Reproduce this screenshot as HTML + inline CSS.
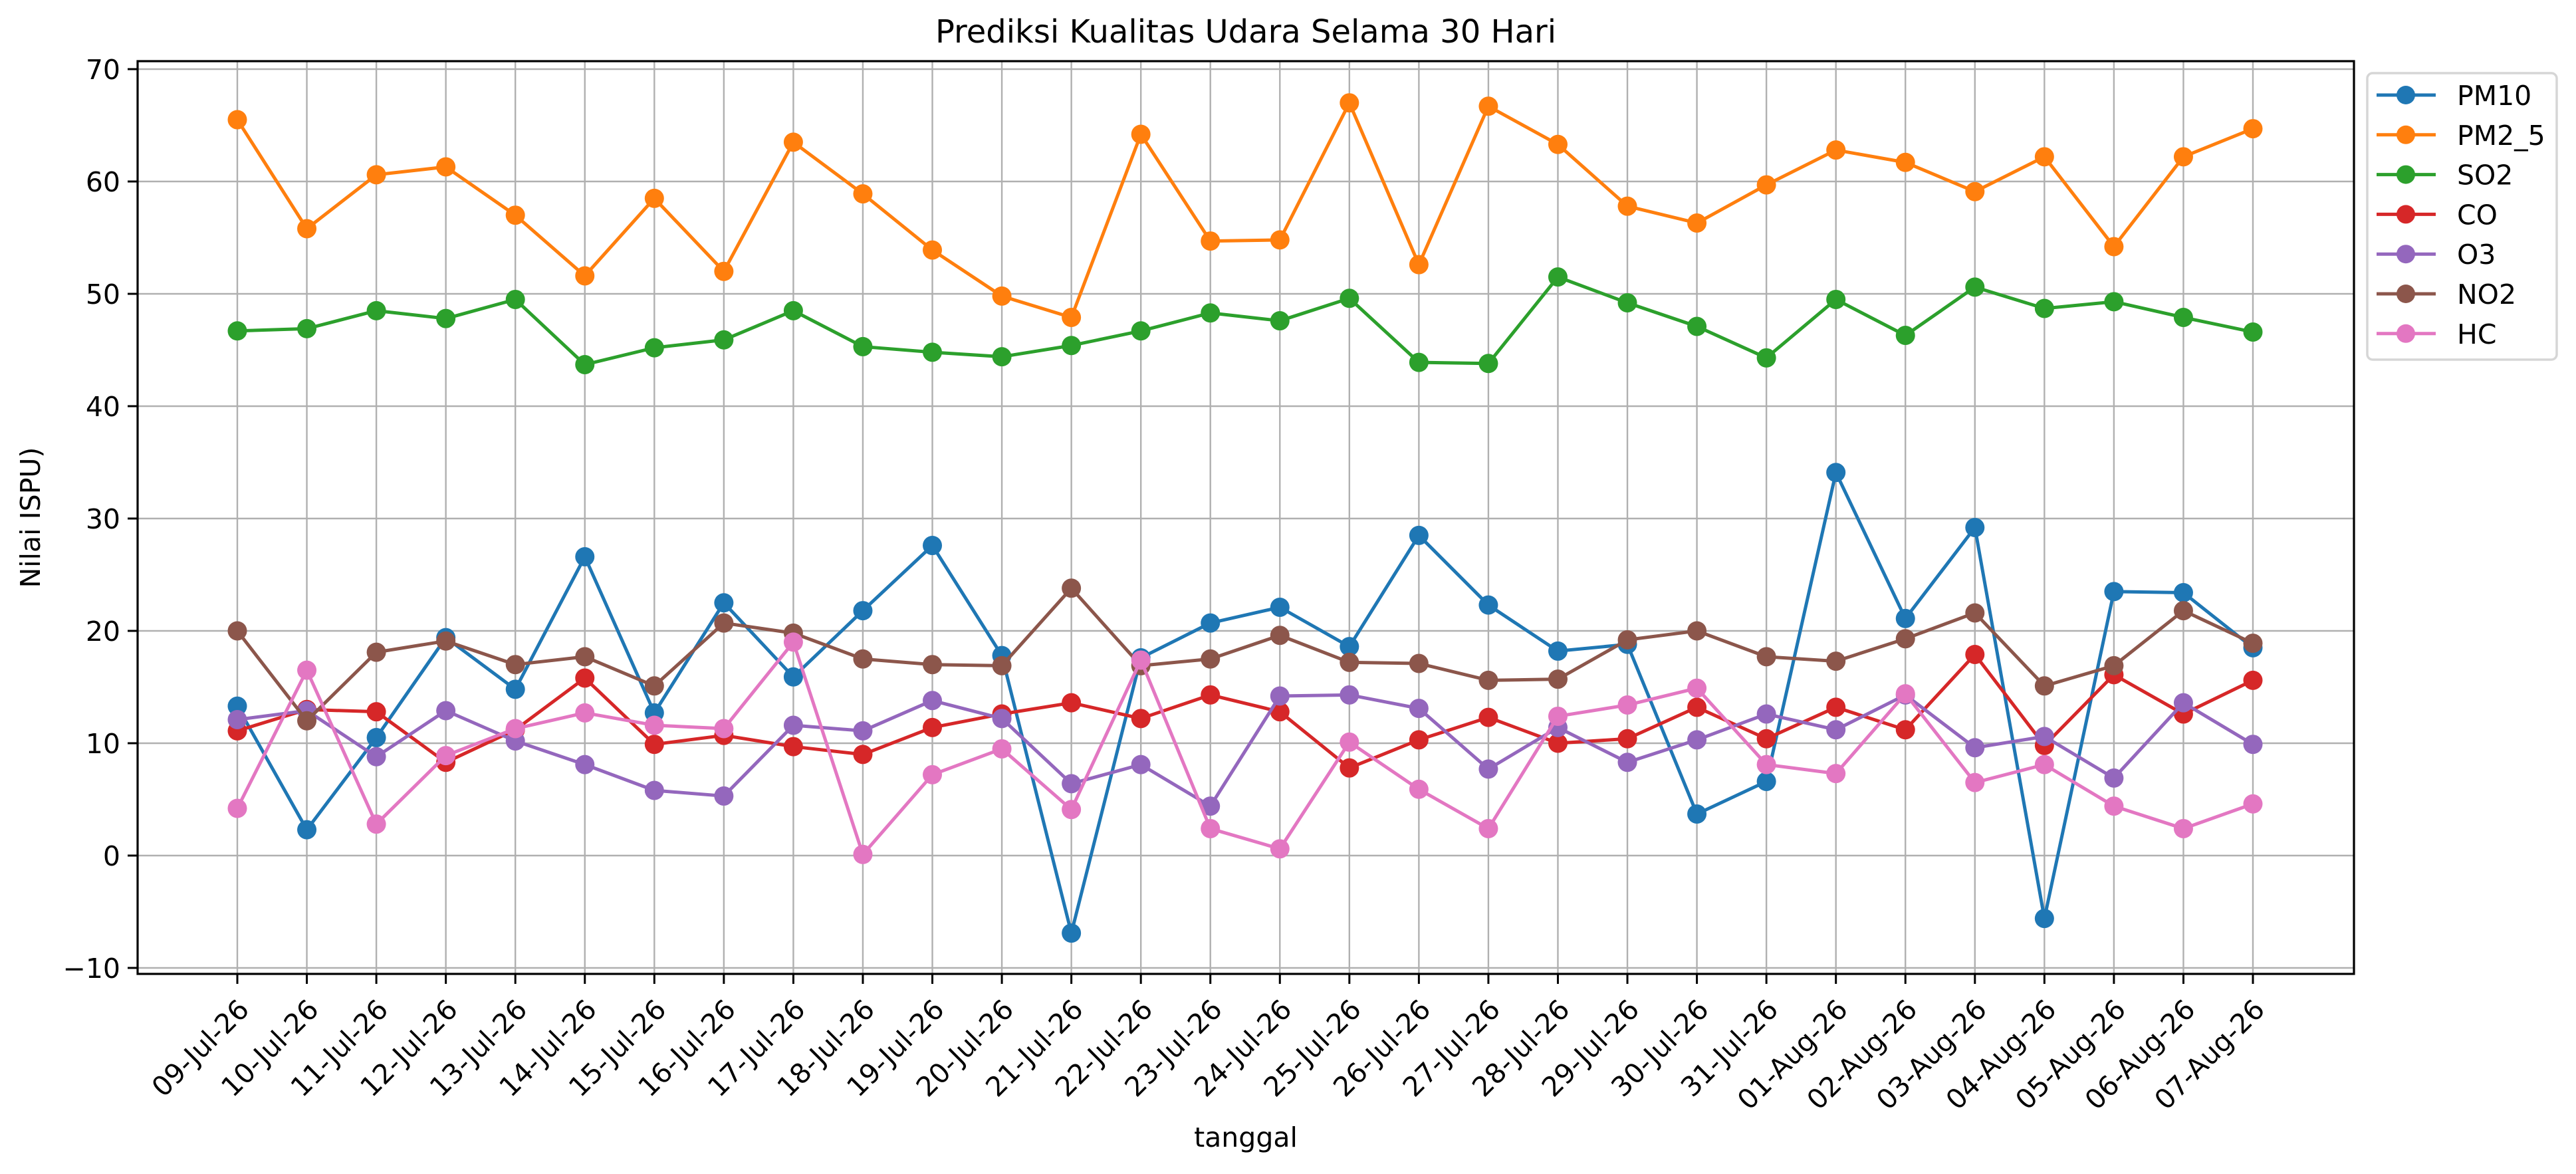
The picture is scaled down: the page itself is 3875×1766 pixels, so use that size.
<!DOCTYPE html>
<html><head><meta charset="utf-8"><style>
html,body{margin:0;padding:0;background:#fff;}
svg{display:block;font-family:"DejaVu Sans","Liberation Sans",sans-serif;}
</style></head><body>
<svg id="chart" width="3875" height="1766" viewBox="0 0 3875 1766" xmlns="http://www.w3.org/2000/svg"></svg>
<script>
const dates = ["09-Jul-26","10-Jul-26","11-Jul-26","12-Jul-26","13-Jul-26","14-Jul-26","15-Jul-26","16-Jul-26","17-Jul-26","18-Jul-26","19-Jul-26","20-Jul-26","21-Jul-26","22-Jul-26","23-Jul-26","24-Jul-26","25-Jul-26","26-Jul-26","27-Jul-26","28-Jul-26","29-Jul-26","30-Jul-26","31-Jul-26","01-Aug-26","02-Aug-26","03-Aug-26","04-Aug-26","05-Aug-26","06-Aug-26","07-Aug-26"];
const pm10 = [13.3,2.3,10.5,19.4,14.8,26.6,12.7,22.5,15.9,21.8,27.6,17.8,-6.9,17.6,20.7,22.1,18.6,28.5,22.3,18.2,18.8,3.7,6.6,34.1,21.1,29.2,-5.6,23.5,23.4,18.5];
const pm25 = [65.5,55.8,60.6,61.3,57.0,51.6,58.5,52.0,63.5,58.9,53.9,49.8,47.9,64.2,54.7,54.8,67.0,52.6,66.7,63.3,57.8,56.3,59.7,62.8,61.7,59.1,62.2,54.2,62.2,64.7];
const so2 = [46.7,46.9,48.5,47.8,49.5,43.7,45.2,45.9,48.5,45.3,44.8,44.4,45.4,46.7,48.3,47.6,49.6,43.9,43.8,51.5,49.2,47.1,44.3,49.5,46.3,50.6,48.7,49.3,47.9,46.6];
const co = [11.1,13.0,12.8,8.3,11.2,15.8,9.9,10.7,9.7,9.0,11.4,12.6,13.6,12.2,14.3,12.8,7.8,10.3,12.3,10.0,10.4,13.2,10.4,13.2,11.2,17.9,9.8,16.1,12.6,15.6];
const o3 = [12.1,12.9,8.8,12.9,10.2,8.1,5.8,5.3,11.6,11.1,13.8,12.2,6.4,8.1,4.4,14.2,14.3,13.1,7.7,11.4,8.3,10.3,12.6,11.2,14.3,9.6,10.6,6.9,13.6,9.9];
const no2 = [20.0,12.0,18.1,19.1,17.0,17.7,15.1,20.7,19.8,17.5,17.0,16.9,23.8,16.9,17.5,19.6,17.2,17.1,15.6,15.7,19.2,20.0,17.7,17.3,19.3,21.6,15.1,16.9,21.8,18.9];
const hc = [4.2,16.5,2.8,8.9,11.3,12.7,11.6,11.3,19.0,0.1,7.2,9.5,4.1,17.4,2.4,0.6,10.1,5.9,2.4,12.4,13.4,14.9,8.1,7.3,14.4,6.5,8.1,4.4,2.4,4.6];
const seriesNames = ["PM10","PM2_5","SO2","CO","O3","NO2","HC"];
const seriesData = [pm10,pm25,so2,co,o3,no2,hc];
const yTicks = [-10,0,10,20,30,40,50,60,70];

const colors = ["#1f77b4","#ff7f0e","#2ca02c","#d62728","#9467bd","#8c564b","#e377c2"];
const NS="http://www.w3.org/2000/svg";
const svg=document.getElementById('chart');
const L=207,R=3541,T=92,B=1465;
const X0=357,X1=3389;
const xs=i=>X0+(X1-X0)*i/(dates.length-1);
const ys=v=>104+(70-v)*(1456-104)/80;
function mk(tag,attrs,parent){const e=document.createElementNS(NS,tag);for(const k in attrs)e.setAttribute(k,attrs[k]);(parent||svg).appendChild(e);return e;}

const grid=mk('g',{});


dates.forEach((d,i)=>{mk('line',{x1:xs(i),x2:xs(i),y1:T,y2:B,stroke:'#b0b0b0','stroke-width':2.4},grid);});
yTicks.forEach(v=>{mk('line',{x1:L,x2:R,y1:ys(v),y2:ys(v),stroke:'#b0b0b0','stroke-width':2.4},grid);});

seriesData.forEach((arr,si)=>{
  const g=mk('g',{});
  
  
  mk('polyline',{points:arr.map((v,i)=>xs(i)+','+ys(v)).join(' '),fill:'none',stroke:colors[si],'stroke-width':5,'stroke-linejoin':'round'},g);
  arr.forEach((v,i)=>{
    const c=mk('circle',{cx:xs(i),cy:ys(v),r:14.5,fill:colors[si]},g);
    
    
  });
});

const frame=mk('rect',{x:L,y:T,width:R-L,height:B-T,fill:'none',stroke:'#000','stroke-width':3.2});



const yax=mk('g',{});


yTicks.forEach(v=>{
  mk('line',{x1:L-15,x2:L,y1:ys(v),y2:ys(v),stroke:'#000','stroke-width':3},yax);
  const t=mk('text',{x:L-26,y:ys(v)+15,'text-anchor':'end','font-size':41,fill:'#000'},yax);
  t.textContent=(v<0?'\u2212'+(-v):v);
  
  
});
const xax=mk('g',{});


dates.forEach((d,i)=>{
  const x=xs(i);
  mk('line',{x1:x,x2:x,y1:B,y2:B+15,stroke:'#000','stroke-width':3},xax);
  const t=mk('text',{x:x+20,y:B+56,'text-anchor':'end','font-size':41,fill:'#000',transform:`rotate(-45 ${x+20} ${B+56})`},xax);
  t.textContent=d;
  
  
});

const title=mk('text',{x:(L+R)/2,y:64,'text-anchor':'middle','font-size':48,fill:'#000'});
title.textContent='Prediksi Kualitas Udara Selama 30 Hari';


const xl=mk('text',{x:(L+R)/2,y:1725,'text-anchor':'middle','font-size':41,fill:'#000'});
xl.textContent='tanggal';


const yl=mk('text',{x:60,y:(T+B)/2,'text-anchor':'middle','font-size':41,fill:'#000',transform:`rotate(-90 60 ${(T+B)/2})`});
yl.textContent='Nilai ISPU)';



const lg=mk('g',{});


mk('rect',{x:3561,y:110,width:285,height:431,rx:8,fill:'#fff',stroke:'#d6d6d6','stroke-width':3.5},lg);
seriesNames.forEach((n,i)=>{
  const y=143+i*59.8;
  const e=mk('g',{},lg);
  
  
  mk('line',{x1:3575,x2:3664,y1:y,y2:y,stroke:colors[i],'stroke-width':5},e);
  mk('circle',{cx:3619,cy:y,r:14,fill:colors[i]},e);
  const t=mk('text',{x:3696,y:y+15,'font-size':41,fill:'#000'},e);
  t.textContent=n;
});
</script>
</body></html>
